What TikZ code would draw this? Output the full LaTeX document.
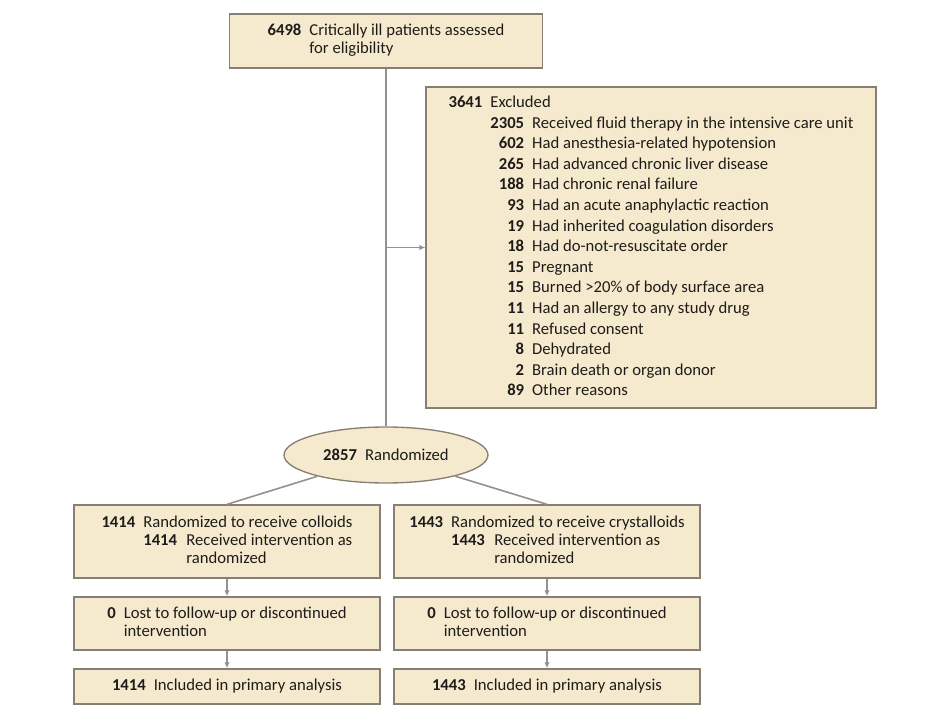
\documentclass[tikz,border=0pt]{standalone}
\usepackage{fontspec}
\setmainfont{Carlito}
\usetikzlibrary{arrows.meta,shapes.geometric,positioning}
\definecolor{boxfill}{RGB}{246,234,206}
\definecolor{boxline}{RGB}{135,127,115}
\definecolor{linkgray}{RGB}{150,145,138}
\definecolor{inkgray}{RGB}{30,28,26}

\begin{document}
\begin{tikzpicture}[x=0.75pt,y=-0.75pt,>={Latex[length=4.5pt,width=4pt]},
  flowbox/.style={draw=boxline,fill=boxfill,line width=1pt,inner sep=0pt,
    text=inkgray,font=\fontsize{12.5}{13.5}\selectfont,align=center},
  link/.style={draw=linkgray,line width=1.2pt}]
  \useasboundingbox (0,0) rectangle (926,723);

  % screening and exclusions
  \node[flowbox,minimum width=234.75pt,minimum height=40.5pt] (screen) at (386,41)
    {\begin{tabular}{@{}r@{\hspace{6pt}}l@{}}
      \textbf{6498} & Critically ill patients assessed\\
                    & for eligibility
    \end{tabular}};
  \node[flowbox,minimum width=337.5pt,minimum height=240.75pt,
    font=\fontsize{12.5}{15.45}\selectfont] (excl) at (651,247.5)
    {\begin{tabular}{@{}r@{\hspace{6pt}}r@{\hspace{6pt}}l@{}}
      \textbf{3641} & \multicolumn{2}{@{}l@{}}{Excluded}\\
      & \textbf{2305} & Received fluid therapy in the intensive care unit\\
      & \textbf{602}  & Had anesthesia-related hypotension\\
      & \textbf{265}  & Had advanced chronic liver disease\\
      & \textbf{188}  & Had chronic renal failure\\
      & \textbf{93}   & Had an acute anaphylactic reaction\\
      & \textbf{19}   & Had inherited coagulation disorders\\
      & \textbf{18}   & Had do-not-resuscitate order\\
      & \textbf{15}   & Pregnant\\
      & \textbf{15}   & Burned >20\% of body surface area\\
      & \textbf{11}   & Had an allergy to any study drug\\
      & \textbf{11}   & Refused consent\\
      & \textbf{8}    & Dehydrated\\
      & \textbf{2}    & Brain death or organ donor\\
      & \textbf{89}   & Other reasons
    \end{tabular}};

  % randomization
  \node[flowbox,ellipse,minimum width=153pt,minimum height=42pt] (rand) at (386,455)
    {\textbf{2857}\hspace{6pt}Randomized};

  % two arms
  \node[flowbox,minimum width=229.5pt,minimum height=54.75pt] (colloid) at (227,541.5)
    {\begin{tabular}{@{}r@{\hspace{6pt}}r@{\hspace{7pt}}l@{}}
      \textbf{1414} & \multicolumn{2}{@{}l@{}}{Randomized to receive colloids}\\
      & \textbf{1414} & Received intervention as\\
      & & randomized
    \end{tabular}};
  \node[flowbox,minimum width=229.5pt,minimum height=54.75pt] (crystal) at (547,541.5)
    {\begin{tabular}{@{}r@{\hspace{6pt}}r@{\hspace{7pt}}l@{}}
      \textbf{1443} & \multicolumn{2}{@{}l@{}}{Randomized to receive crystalloids}\\
      & \textbf{1443} & Received intervention as\\
      & & randomized
    \end{tabular}};
  \node[flowbox,minimum width=229.5pt,minimum height=39.75pt] (colloidfu) at (227,623.5)
    {\begin{tabular}{@{}r@{\hspace{6pt}}l@{}}
      \textbf{0} & Lost to follow-up or discontinued\\
                 & intervention
    \end{tabular}};
  \node[flowbox,minimum width=229.5pt,minimum height=39.75pt] (crystalfu) at (547,623.5)
    {\begin{tabular}{@{}r@{\hspace{6pt}}l@{}}
      \textbf{0} & Lost to follow-up or discontinued\\
                 & intervention
    \end{tabular}};
  \node[flowbox,minimum width=229.5pt,minimum height=26.25pt] (colloidan) at (227,686.5)
    {\textbf{1414}\hspace{6pt}Included in primary analysis};
  \node[flowbox,minimum width=229.5pt,minimum height=26.25pt] (crystalan) at (547,686.5)
    {\textbf{1443}\hspace{6pt}Included in primary analysis};

  % connectors
  \coordinate (jn) at (screen.south |- excl.west);
  \draw[link] (screen.south) -- (rand.north);
  \draw[link,->] (jn) -- (excl.west);
  \draw[link] (rand) -- (colloid.north);
  \draw[link] (rand) -- (crystal.north);
  \draw[link,->] (colloid) -- (colloidfu);
  \draw[link,->] (crystal) -- (crystalfu);
  \draw[link,->] (colloidfu) -- (colloidan);
  \draw[link,->] (crystalfu) -- (crystalan);
\end{tikzpicture}
\end{document}
